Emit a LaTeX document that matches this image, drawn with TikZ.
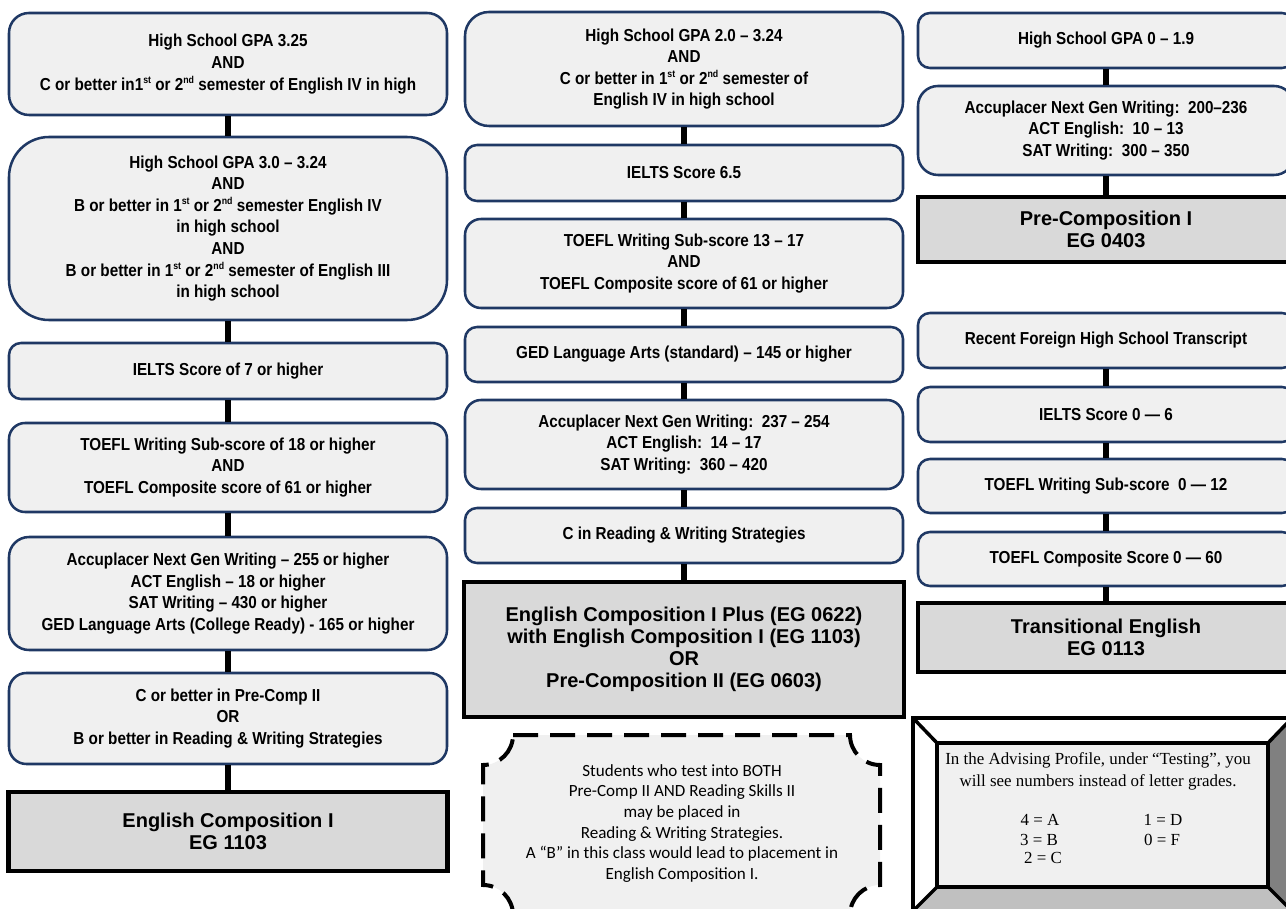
\documentclass[tikz,border=0pt]{standalone}
\usepackage{fontspec}
\setmainfont{Liberation Sans}
\newfontfamily\narb[FakeStretch=0.88]{Liberation Sans}
\newfontfamily\calfont{Carlito}
\newfontfamily\cambfont{Liberation Serif}
\definecolor{navy}{RGB}{31,56,100}
\definecolor{boxfill}{RGB}{240,240,240}
\definecolor{grayfill}{RGB}{217,217,217}
\definecolor{bevdark}{RGB}{128,128,128}
\definecolor{bevlight}{RGB}{192,192,192}
\newcommand{\sups}[1]{\raisebox{0.75ex}{\fontsize{7.5}{7.5}\selectfont #1}}
\begin{document}
\begin{tikzpicture}[x=0.75pt,y=-0.75pt,
  rbox/.style={draw=navy, fill=boxfill, line width=1.9pt, rounded corners=9pt, align=center, inner sep=0pt,
    font=\narb\bfseries\fontsize{13}{16.2}\selectfont},
  gbox/.style={draw=black, fill=grayfill, line width=3.4pt, align=center, inner sep=0pt,
    font=\bfseries\fontsize{15}{16.5}\selectfont},
  conn/.style={line width=4.5pt, black},
  bevline/.style={line width=2.6pt, black, line join=miter}]
\path[use as bounding box] (0,0) rectangle (1286,909);
\clip (0,0) rectangle (1286,909);

% ---------------- left column ----------------
\node[rbox, rounded corners=15pt, minimum width=328.5pt, minimum height=76.5pt] (L1) at (228,64)
  {High School GPA 3.25\\AND\\C or better in1\sups{st} or 2\sups{nd} semester of English IV in high};
\node[rbox, rounded corners=30pt, minimum width=328.5pt, minimum height=137.25pt] (L2) at (228,228.5)
  {High School GPA 3.0 – 3.24\\AND\\B or better in 1\sups{st} or 2\sups{nd} semester English IV\\in high school\\AND\\B or better in 1\sups{st} or 2\sups{nd} semester of English III\\in high school};
\node[rbox, minimum width=328.5pt, minimum height=42pt] (L3) at (228,371)
  {IELTS Score of 7 or higher};
\node[rbox, rounded corners=12pt, minimum width=328.5pt, minimum height=66.75pt] (L4) at (228,467.5)
  {TOEFL Writing Sub-score of 18 or higher\\AND\\TOEFL Composite score of 61 or higher};
\node[rbox, rounded corners=15pt, minimum width=328.5pt, minimum height=84.75pt] (L5) at (228,593.5)
  {Accuplacer Next Gen Writing – 255 or higher\\ACT English – 18 or higher\\SAT Writing – 430 or higher\\GED Language Arts (College Ready) - 165 or higher};
\node[rbox, rounded corners=13pt, minimum width=328.5pt, minimum height=68.25pt] (L6) at (228,718.5)
  {C or better in Pre-Comp II\\OR\\B or better in Reading \& Writing Strategies};
\node[gbox, minimum width=329.25pt, minimum height=59.25pt] (LG) at (228,831.5)
  {English Composition I\\EG 1103};

\draw[conn] (L1) -- (L2);
\draw[conn] (L2) -- (L3);
\draw[conn] (L3) -- (L4);
\draw[conn] (L4) -- (L5);
\draw[conn] (L5) -- (L6);
\draw[conn] (L6) -- (LG);

% ---------------- middle column ----------------
\node[rbox, rounded corners=18pt, minimum width=328.5pt, minimum height=85.5pt] (M1) at (684,69)
  {High School GPA 2.0 – 3.24\\AND\\C or better in 1\sups{st} or 2\sups{nd} semester of\\English IV in high school};
\node[rbox, minimum width=328.5pt, minimum height=42pt] (M2) at (684,173)
  {IELTS Score 6.5};
\node[rbox, rounded corners=12pt, minimum width=328.5pt, minimum height=66.75pt] (M3) at (684,263.5)
  {TOEFL Writing Sub-score 13 – 17\\AND\\TOEFL Composite score of 61 or higher};
\node[rbox, minimum width=328.5pt, minimum height=41.25pt] (M4) at (684,354.5)
  {GED Language Arts (standard) – 145 or higher};
\node[rbox, rounded corners=12pt, minimum width=328.5pt, minimum height=66.75pt] (M5) at (684,444.5)
  {Accuplacer Next Gen Writing:\ \ 237 – 254\\ACT English:\ \ 14 – 17\\SAT Writing:\ \ 360 – 420};
\node[rbox, minimum width=328.5pt, minimum height=41.25pt] (M6) at (684,535.5)
  {C in Reading \& Writing Strategies};
\node[gbox, minimum width=330pt, minimum height=101.25pt] (MG) at (684,649.5)
  {English Composition I Plus (EG 0622)\\with English Composition I (EG 1103)\\OR\\Pre-Composition II (EG 0603)};

\draw[conn] (M1) -- (M2);
\draw[conn] (M2) -- (M3);
\draw[conn] (M3) -- (M4);
\draw[conn] (M4) -- (M5);
\draw[conn] (M5) -- (M6);
\draw[conn] (M6) -- (MG);

% ---------------- right column ----------------
\node[rbox, minimum width=282pt, minimum height=41.25pt] (R1) at (1106,40.5)
  {High School GPA 0 – 1.9};
\node[rbox, rounded corners=15pt, minimum width=282pt, minimum height=66.75pt] (R2) at (1106,130.5)
  {Accuplacer Next Gen Writing:\ \ 200–236\\ACT English:\ \ 10 – 13\\SAT Writing:\ \ 300 – 350};
\node[gbox, minimum width=282pt, minimum height=48.75pt] (RG) at (1106,229.5)
  {Pre-Composition I\\EG 0403};
\draw[conn] (R1) -- (R2);
\draw[conn] (R2) -- (RG);

\node[rbox, minimum width=282pt, minimum height=41.25pt] (R3) at (1106,340.5)
  {Recent Foreign High School Transcript};
\node[rbox, minimum width=282pt, minimum height=41.25pt] (R4) at (1106,414.5)
  {IELTS Score 0 — 6};
\node[rbox, minimum width=282pt, minimum height=40.5pt] (R5) at (1106,486)
  {TOEFL Writing Sub-score\ \ 0 — 12};
\node[rbox, minimum width=282pt, minimum height=40.5pt] (R6) at (1106,559)
  {TOEFL Composite Score 0 — 60};
\node[gbox, minimum width=282pt, minimum height=51.75pt] (RG2) at (1106,637.5)
  {Transitional English\\EG 0113};
\draw[conn] (R3) -- (R4);
\draw[conn] (R4) -- (R5);
\draw[conn] (R5) -- (R6);
\draw[conn] (R6) -- (RG2);

% ---------------- dashed plaque note ----------------
\draw[line width=3pt, dash pattern=on 18.75pt off 9pt, fill=boxfill]
  (513,735) -- (850,735) arc[start angle=180, end angle=270, radius=22.5pt]
  -- (880,885) arc[start angle=90, end angle=180, radius=22.5pt]
  -- (513,915) arc[start angle=0, end angle=90, radius=22.5pt]
  -- (483,765) arc[start angle=270, end angle=360, radius=22.5pt] -- cycle;
\node[align=center, font=\calfont\fontsize{12.8}{15.5}\selectfont] (note) at (682,823.5)
  {Students who test into BOTH\\Pre-Comp II AND Reading Skills II\\may be placed in\\Reading \& Writing Strategies.\\A “B” in this class would lead to placement in\\English Composition I.};

% ---------------- bevel box ----------------
\fill[white] (913,718) -- (1292,718) -- (1268,743) -- (937,743) -- cycle;
\fill[white] (913,718) -- (937,743) -- (937,887) -- (913,911) -- cycle;
\fill[bevdark] (1292,718) -- (1292,911) -- (1268,887) -- (1268,743) -- cycle;
\fill[bevlight] (913,911) -- (1292,911) -- (1268,887) -- (937,887) -- cycle;
\draw[bevline, fill=boxfill] (937,743) rectangle (1268,887);
\draw[bevline] (913,718) -- (937,743);
\draw[bevline] (1292,718) -- (1268,743);
\draw[bevline] (913,911) -- (937,887);
\draw[bevline] (1292,911) -- (1268,887);
\draw[line width=3.2pt] (913,718) rectangle (1292,911);
\node[align=center, font=\cambfont\fontsize{12.7}{16.5}\selectfont] (bevtxt) at (1098,771.5)
  {In the Advising Profile, under “Testing”, you\\will see numbers instead of letter grades.};
\node[font=\cambfont\fontsize{12.7}{15}\selectfont] (gA) at (1040,820) {4 = A};
\node[font=\cambfont\fontsize{12.7}{15}\selectfont] (gB) at (1039,840) {3 = B};
\node[font=\cambfont\fontsize{12.7}{15}\selectfont] (gC) at (1043,858) {2 = C};
\node[font=\cambfont\fontsize{12.7}{15}\selectfont] (gD) at (1163,820) {1 = D};
\node[font=\cambfont\fontsize{12.7}{15}\selectfont] (gF) at (1162,840) {0 = F};
\end{tikzpicture}
\end{document}
